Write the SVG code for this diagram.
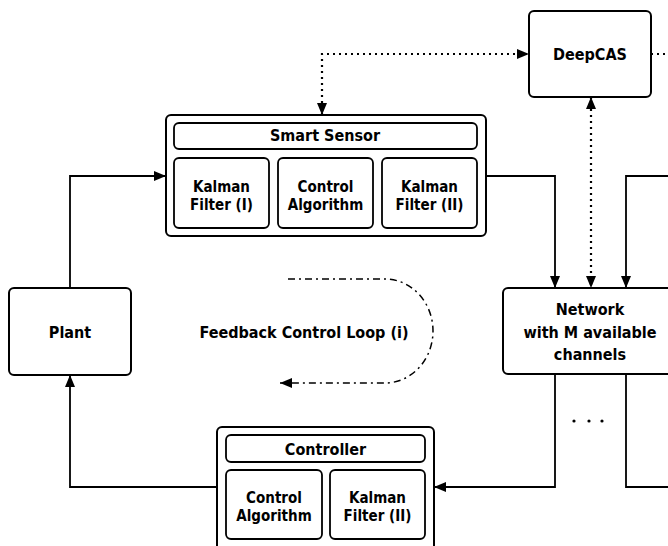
<svg xmlns="http://www.w3.org/2000/svg" width="668" height="546" viewBox="0 0 668 546">
<style>
.box{fill:#fff;stroke:#000;stroke-width:2}
.inner{fill:#fff;stroke:#000;stroke-width:1.8}
.t{font-family:"DejaVu Sans Condensed","DejaVu Sans",sans-serif;font-weight:bold;font-size:15px;fill:#000;text-anchor:middle}
.big{font-size:16px}
.c{fill:none;stroke:#000;stroke-width:1.8}
.dot{fill:none;stroke:#000;stroke-width:2.2;stroke-dasharray:2 4}
.dd{fill:none;stroke:#000;stroke-width:1.5;stroke-dasharray:7 4 2 4}
</style>
<defs>
<marker id="a" markerUnits="userSpaceOnUse" markerWidth="13" markerHeight="11" refX="12" refY="5.5" orient="auto-start-reverse"><path d="M0,0.5 L12,5.5 L0,10.5 z" fill="#000"/></marker>
</defs>
<g id="connectors">
<path class="c" d="M70,288 V176 H166" marker-end="url(#a)"/>
<path class="c" d="M486,176 H555 V288" marker-end="url(#a)"/>
<path class="c" d="M668,176 H626 V288" marker-end="url(#a)"/>
<path class="dot" d="M591,97 V288" marker-start="url(#a)" marker-end="url(#a)"/>
<path class="dot" d="M322,115 V54 H529" marker-start="url(#a)" marker-end="url(#a)"/>
<path class="dot" d="M651,54 H668"/>
<path class="c" d="M555,374 V487 H434" marker-end="url(#a)"/>
<path class="c" d="M626,374 V487 H668"/>
<path class="c" d="M217,487 H70 V375" marker-end="url(#a)"/>
<path class="dd" d="M288,279 H385 A48,52 0 0 1 385,383 H280" marker-end="url(#a)"/>
</g>
<g id="deepcas">
<rect class="box" x="529" y="11" width="122" height="86" rx="5"/>
<text class="t big" x="590" y="60">DeepCAS</text>
</g>
<g id="smart-sensor">
<rect class="box" x="166" y="115" width="320" height="121" rx="5"/>
<rect class="inner" x="174" y="123" width="303" height="26" rx="5"/>
<text class="t big" x="325" y="141">Smart Sensor</text>
<rect class="inner" x="174" y="158" width="95" height="70" rx="5"/>
<text class="t" x="221.5" y="192">Kalman</text>
<text class="t" x="221.5" y="210">Filter (I)</text>
<rect class="inner" x="278" y="158" width="95" height="70" rx="5"/>
<text class="t" x="325.5" y="192">Control</text>
<text class="t" x="325.5" y="210">Algorithm</text>
<rect class="inner" x="382" y="158" width="95" height="70" rx="5"/>
<text class="t" x="429.5" y="192">Kalman</text>
<text class="t" x="429.5" y="210">Filter (II)</text>
</g>
<g id="plant">
<rect class="box" x="9" y="288" width="122" height="87" rx="5"/>
<text class="t big" x="70" y="338">Plant</text>
</g>
<g id="loop-label">
<text class="t big" x="304" y="338">Feedback Control Loop (i)</text>
</g>
<g id="network">
<rect class="box" x="503" y="288" width="200" height="86" rx="5"/>
<text class="t big" x="590" y="315">Network</text>
<text class="t big" x="590" y="338">with M available</text>
<text class="t big" x="590" y="360">channels</text>
</g>
<g id="ellipsis">
<circle cx="574" cy="421" r="1.6"/>
<circle cx="589" cy="421" r="1.6"/>
<circle cx="602" cy="421" r="1.6"/>
</g>
<g id="controller">
<rect class="box" x="217" y="427" width="217" height="130" rx="5"/>
<rect class="inner" x="226" y="435" width="199" height="27" rx="5"/>
<text class="t big" x="325.5" y="455">Controller</text>
<rect class="inner" x="226" y="470" width="96" height="69" rx="5"/>
<text class="t" x="274" y="503">Control</text>
<text class="t" x="274" y="521">Algorithm</text>
<rect class="inner" x="330" y="470" width="95" height="69" rx="5"/>
<text class="t" x="377.5" y="503">Kalman</text>
<text class="t" x="377.5" y="521">Filter (II)</text>
</g>
</svg>
